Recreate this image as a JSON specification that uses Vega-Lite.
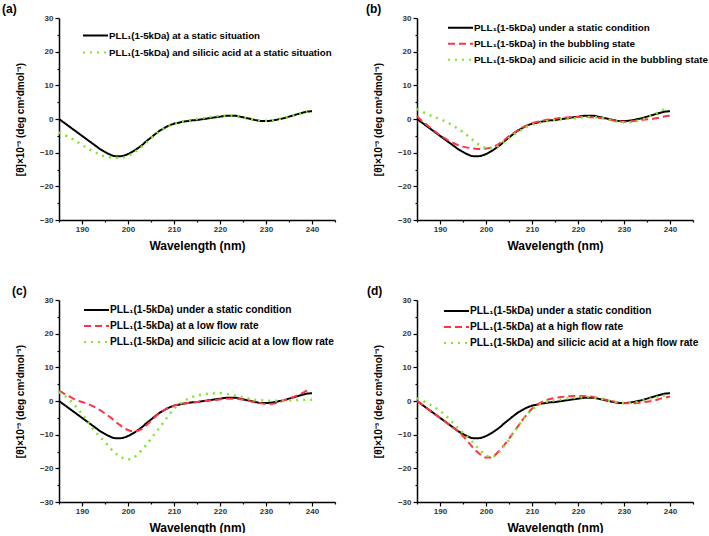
{
"$schema":"https://vega.github.io/schema/vega-lite/v6.json",
"background":"white",
"padding":{"left":2,"top":3,"right":0,"bottom":0},
"config":{
 "view":{"stroke":null},
 "axis":{"domainColor":"#000","domainWidth":1.5,"tickColor":"#000","tickWidth":1.2,"labelFont":"Liberation Sans","labelFontSize":8,"labelFontWeight":"bold","labelColor":"#333","titleFont":"Liberation Sans","titleFontWeight":"bold","titleColor":"#000","grid":false,"labelOverlap":false,"labelBound":false},
 "legend":{"orient":"none","symbolType":"stroke","symbolSize":625,"symbolStrokeWidth":2,"labelFont":"Liberation Sans","labelFontSize":10.2,"labelFontWeight":"bold","labelColor":"#000","labelLimit":500,"clipHeight":16,"rowPadding":0,"labelOffset":0,"padding":0},
 "title":{"anchor":"start","frame":"group","offset":-2,"baseline":"alphabetic","fontSize":12,"fontWeight":"bold","font":"Liberation Sans","color":"#000"}
},
"datasets":{
"static":[{"x":185,"y":0},{"x":186,"y":-1},{"x":187,"y":-2},{"x":188,"y":-3},{"x":189,"y":-4},{"x":190,"y":-5},{"x":191,"y":-6},{"x":192,"y":-7},{"x":193,"y":-8},{"x":194,"y":-9},{"x":195,"y":-9.8},{"x":196,"y":-10.5},{"x":197,"y":-11},{"x":198,"y":-11.1},{"x":199,"y":-10.9},{"x":200,"y":-10.4},{"x":201,"y":-9.7},{"x":202,"y":-8.8},{"x":203,"y":-7.8},{"x":204,"y":-6.6},{"x":205,"y":-5.5},{"x":206,"y":-4.4},{"x":207,"y":-3.4},{"x":208,"y":-2.6},{"x":209,"y":-1.9},{"x":210,"y":-1.4},{"x":211,"y":-1.1},{"x":212,"y":-0.8},{"x":213,"y":-0.6},{"x":214,"y":-0.4},{"x":215,"y":-0.3},{"x":216,"y":-0.1},{"x":217,"y":0.1},{"x":218,"y":0.3},{"x":219,"y":0.5},{"x":220,"y":0.7},{"x":221,"y":0.9},{"x":222,"y":1},{"x":223,"y":1},{"x":224,"y":0.8},{"x":225,"y":0.5},{"x":226,"y":0.2},{"x":227,"y":-0.1},{"x":228,"y":-0.4},{"x":229,"y":-0.6},{"x":230,"y":-0.6},{"x":231,"y":-0.5},{"x":232,"y":-0.3},{"x":233,"y":0},{"x":234,"y":0.3},{"x":235,"y":0.7},{"x":236,"y":1.1},{"x":237,"y":1.5},{"x":238,"y":1.9},{"x":239,"y":2.2},{"x":240,"y":2.3}],
"a_g":[{"x":185,"y":-4},{"x":186,"y":-4.6},{"x":187,"y":-5.3},{"x":188,"y":-6},{"x":189,"y":-6.8},{"x":190,"y":-7.7},{"x":191,"y":-8.5},{"x":192,"y":-9.3},{"x":193,"y":-10},{"x":194,"y":-10.7},{"x":195,"y":-11.1},{"x":196,"y":-11.4},{"x":197,"y":-11.5},{"x":198,"y":-11.5},{"x":199,"y":-11.4},{"x":200,"y":-11},{"x":201,"y":-10.2},{"x":202,"y":-9.3},{"x":203,"y":-8.2},{"x":204,"y":-7},{"x":205,"y":-5.7},{"x":206,"y":-4.6},{"x":207,"y":-3.6},{"x":208,"y":-2.7},{"x":209,"y":-2},{"x":210,"y":-1.5},{"x":211,"y":-1.1},{"x":212,"y":-0.7},{"x":213,"y":-0.5},{"x":214,"y":-0.2},{"x":215,"y":0},{"x":216,"y":0.2},{"x":217,"y":0.4},{"x":218,"y":0.6},{"x":219,"y":0.8},{"x":220,"y":0.9},{"x":221,"y":1},{"x":222,"y":1.1},{"x":223,"y":1},{"x":224,"y":0.8},{"x":225,"y":0.5},{"x":226,"y":0.2},{"x":227,"y":-0.1},{"x":228,"y":-0.3},{"x":229,"y":-0.4},{"x":230,"y":-0.5},{"x":231,"y":-0.4},{"x":232,"y":-0.2},{"x":233,"y":0.1},{"x":234,"y":0.4},{"x":235,"y":0.7},{"x":236,"y":1.1},{"x":237,"y":1.5},{"x":238,"y":1.9},{"x":239,"y":2.2}],
"b_r":[{"x":185,"y":0.8},{"x":186,"y":-0.5},{"x":187,"y":-1.6},{"x":188,"y":-2.7},{"x":189,"y":-3.8},{"x":190,"y":-4.8},{"x":191,"y":-5.7},{"x":192,"y":-6.5},{"x":193,"y":-7.2},{"x":194,"y":-7.8},{"x":195,"y":-8.2},{"x":196,"y":-8.5},{"x":197,"y":-8.7},{"x":198,"y":-8.9},{"x":199,"y":-8.9},{"x":200,"y":-8.8},{"x":201,"y":-8.5},{"x":202,"y":-8},{"x":203,"y":-7.2},{"x":204,"y":-6.2},{"x":205,"y":-5.1},{"x":206,"y":-4.2},{"x":207,"y":-3.3},{"x":208,"y":-2.5},{"x":209,"y":-1.8},{"x":210,"y":-1.3},{"x":211,"y":-0.9},{"x":212,"y":-0.6},{"x":213,"y":-0.3},{"x":214,"y":-0.1},{"x":215,"y":0.1},{"x":216,"y":0.3},{"x":217,"y":0.4},{"x":218,"y":0.5},{"x":219,"y":0.6},{"x":220,"y":0.6},{"x":221,"y":0.6},{"x":222,"y":0.6},{"x":223,"y":0.5},{"x":224,"y":0.4},{"x":225,"y":0.3},{"x":226,"y":0.1},{"x":227,"y":-0.2},{"x":228,"y":-0.5},{"x":229,"y":-0.7},{"x":230,"y":-0.8},{"x":231,"y":-0.8},{"x":232,"y":-0.6},{"x":233,"y":-0.4},{"x":234,"y":-0.2},{"x":235,"y":-0.1},{"x":236,"y":0},{"x":237,"y":0.2},{"x":238,"y":0.5},{"x":239,"y":0.8},{"x":240,"y":1}],
"b_g":[{"x":185,"y":3},{"x":186,"y":2.3},{"x":187,"y":1.6},{"x":188,"y":1},{"x":189,"y":0.5},{"x":190,"y":0},{"x":191,"y":-0.6},{"x":192,"y":-1.3},{"x":193,"y":-2.1},{"x":194,"y":-3},{"x":195,"y":-3.9},{"x":196,"y":-5},{"x":197,"y":-6.1},{"x":198,"y":-7.2},{"x":199,"y":-8.1},{"x":200,"y":-8.6},{"x":201,"y":-8.7},{"x":202,"y":-8.4},{"x":203,"y":-7.7},{"x":204,"y":-6.7},{"x":205,"y":-5.7},{"x":206,"y":-4.7},{"x":207,"y":-3.8},{"x":208,"y":-3},{"x":209,"y":-2.3},{"x":210,"y":-1.7},{"x":211,"y":-1.3},{"x":212,"y":-1},{"x":213,"y":-0.7},{"x":214,"y":-0.5},{"x":215,"y":-0.3},{"x":216,"y":-0.1},{"x":217,"y":0},{"x":218,"y":0.1},{"x":219,"y":0.2},{"x":220,"y":0.3},{"x":221,"y":0.5},{"x":222,"y":0.6},{"x":223,"y":0.6},{"x":224,"y":0.5},{"x":225,"y":0.3},{"x":226,"y":0},{"x":227,"y":-0.3},{"x":228,"y":-0.6},{"x":229,"y":-0.9},{"x":230,"y":-1},{"x":231,"y":-1},{"x":232,"y":-0.8},{"x":233,"y":-0.5},{"x":234,"y":-0.1},{"x":235,"y":0.5},{"x":236,"y":1.1},{"x":237,"y":1.7},{"x":238,"y":2.4},{"x":239,"y":3.1}],
"c_r":[{"x":185,"y":3},{"x":186,"y":2.3},{"x":187,"y":1.5},{"x":188,"y":0.8},{"x":189,"y":0.2},{"x":190,"y":-0.3},{"x":191,"y":-0.7},{"x":192,"y":-1.3},{"x":193,"y":-2},{"x":194,"y":-2.8},{"x":195,"y":-3.7},{"x":196,"y":-4.7},{"x":197,"y":-5.8},{"x":198,"y":-6.9},{"x":199,"y":-7.9},{"x":200,"y":-8.6},{"x":201,"y":-9},{"x":202,"y":-8.9},{"x":203,"y":-8.3},{"x":204,"y":-7.2},{"x":205,"y":-5.9},{"x":206,"y":-4.6},{"x":207,"y":-3.5},{"x":208,"y":-2.6},{"x":209,"y":-1.9},{"x":210,"y":-1.4},{"x":211,"y":-1},{"x":212,"y":-0.8},{"x":213,"y":-0.6},{"x":214,"y":-0.4},{"x":215,"y":-0.3},{"x":216,"y":-0.1},{"x":217,"y":0},{"x":218,"y":0.2},{"x":219,"y":0.3},{"x":220,"y":0.5},{"x":221,"y":0.6},{"x":222,"y":0.7},{"x":223,"y":0.7},{"x":224,"y":0.6},{"x":225,"y":0.4},{"x":226,"y":0.1},{"x":227,"y":-0.2},{"x":228,"y":-0.5},{"x":229,"y":-0.7},{"x":230,"y":-0.9},{"x":231,"y":-0.9},{"x":232,"y":-0.7},{"x":233,"y":-0.3},{"x":234,"y":0.2},{"x":235,"y":0.7},{"x":236,"y":1.2},{"x":237,"y":1.8},{"x":238,"y":2.4},{"x":239,"y":3.2}],
"c_g":[{"x":185,"y":2.6},{"x":186,"y":1.8},{"x":187,"y":0.7},{"x":188,"y":-0.6},{"x":189,"y":-2.2},{"x":190,"y":-3.9},{"x":191,"y":-5.7},{"x":192,"y":-7.6},{"x":193,"y":-9.3},{"x":194,"y":-10.8},{"x":195,"y":-12.2},{"x":196,"y":-13.8},{"x":197,"y":-15.2},{"x":198,"y":-16.3},{"x":199,"y":-17},{"x":200,"y":-17.3},{"x":201,"y":-17},{"x":202,"y":-16},{"x":203,"y":-14.6},{"x":204,"y":-13},{"x":205,"y":-11.2},{"x":206,"y":-9.4},{"x":207,"y":-7.6},{"x":208,"y":-5.8},{"x":209,"y":-4},{"x":210,"y":-2.3},{"x":211,"y":-1.2},{"x":212,"y":-0.2},{"x":213,"y":0.6},{"x":214,"y":1.2},{"x":215,"y":1.6},{"x":216,"y":1.9},{"x":217,"y":2.1},{"x":218,"y":2.2},{"x":219,"y":2.3},{"x":220,"y":2.3},{"x":221,"y":2.2},{"x":222,"y":2},{"x":223,"y":1.7},{"x":224,"y":1.4},{"x":225,"y":1.1},{"x":226,"y":0.8},{"x":227,"y":0.5},{"x":228,"y":0.3},{"x":229,"y":0.2},{"x":230,"y":0.1},{"x":231,"y":0.1},{"x":232,"y":0.1},{"x":233,"y":0.1},{"x":234,"y":0.2},{"x":235,"y":0.2},{"x":236,"y":0.3},{"x":237,"y":0.3},{"x":238,"y":0.4},{"x":239,"y":0.4},{"x":240,"y":0.4}],
"d_r":[{"x":185,"y":0},{"x":186,"y":-1},{"x":187,"y":-2},{"x":188,"y":-3},{"x":189,"y":-4},{"x":190,"y":-5},{"x":191,"y":-6},{"x":192,"y":-7},{"x":193,"y":-8},{"x":194,"y":-9.1},{"x":195,"y":-10.4},{"x":196,"y":-12},{"x":197,"y":-13.6},{"x":198,"y":-15},{"x":199,"y":-16.1},{"x":200,"y":-16.8},{"x":201,"y":-16.8},{"x":202,"y":-16},{"x":203,"y":-14.6},{"x":204,"y":-13},{"x":205,"y":-11.2},{"x":206,"y":-9.3},{"x":207,"y":-7.4},{"x":208,"y":-5.5},{"x":209,"y":-3.8},{"x":210,"y":-2.3},{"x":211,"y":-1.2},{"x":212,"y":-0.4},{"x":213,"y":0.2},{"x":214,"y":0.6},{"x":215,"y":0.9},{"x":216,"y":1.1},{"x":217,"y":1.3},{"x":218,"y":1.4},{"x":219,"y":1.5},{"x":220,"y":1.5},{"x":221,"y":1.5},{"x":222,"y":1.4},{"x":223,"y":1.3},{"x":224,"y":1},{"x":225,"y":0.7},{"x":226,"y":0.4},{"x":227,"y":0.1},{"x":228,"y":-0.2},{"x":229,"y":-0.5},{"x":230,"y":-0.7},{"x":231,"y":-0.7},{"x":232,"y":-0.7},{"x":233,"y":-0.6},{"x":234,"y":-0.4},{"x":235,"y":-0.2},{"x":236,"y":0},{"x":237,"y":0.3},{"x":238,"y":0.7},{"x":239,"y":1},{"x":240,"y":1.3}],
"d_g":[{"x":185,"y":0.8},{"x":186,"y":0.3},{"x":187,"y":-0.5},{"x":188,"y":-1.2},{"x":189,"y":-2},{"x":190,"y":-2.9},{"x":191,"y":-4.1},{"x":192,"y":-5.3},{"x":193,"y":-6.8},{"x":194,"y":-8.2},{"x":195,"y":-9.5},{"x":196,"y":-10.8},{"x":197,"y":-12.1},{"x":198,"y":-13.6},{"x":199,"y":-15},{"x":200,"y":-16.1},{"x":201,"y":-16.6},{"x":202,"y":-16.3},{"x":203,"y":-15},{"x":204,"y":-13.3},{"x":205,"y":-11.5},{"x":206,"y":-9.5},{"x":207,"y":-7.5},{"x":208,"y":-5.6},{"x":209,"y":-3.9},{"x":210,"y":-2.6},{"x":211,"y":-1.6},{"x":212,"y":-0.8},{"x":213,"y":-0.3},{"x":214,"y":0},{"x":215,"y":0.2},{"x":216,"y":0.4},{"x":217,"y":0.6},{"x":218,"y":0.8},{"x":219,"y":0.9},{"x":220,"y":1},{"x":221,"y":1.1},{"x":222,"y":1.2},{"x":223,"y":1.1},{"x":224,"y":0.9},{"x":225,"y":0.6},{"x":226,"y":0.3},{"x":227,"y":0},{"x":228,"y":-0.3},{"x":229,"y":-0.5},{"x":230,"y":-0.6},{"x":231,"y":-0.6},{"x":232,"y":-0.4},{"x":233,"y":-0.2},{"x":234,"y":0.1},{"x":235,"y":0.5},{"x":236,"y":0.8},{"x":237,"y":1.1},{"x":238,"y":1.4},{"x":239,"y":1.7},{"x":240,"y":2}]
},
"resolve":{"scale":{"color":"independent","strokeDash":"independent"},"legend":{"color":"independent","strokeDash":"independent"}},
"columns":2,
"spacing":{"row":80,"column":82},
"bounds":"flush",
"concat":[
 {"width":276,"height":202,
  "title":{"text":"(a)","dx":-57},
  "layer":[
   {"data":{"name":"static"},"mark":{"type":"line","interpolate":"monotone","strokeWidth":2},
    "encoding":{
     "x":{"field":"x","type":"quantitative","scale":{"domain":[185,245],"nice":false,"zero":false},"axis":{"values":[185,190,195,200,205,210,215,220,225,230,235,240,245],"tickCount":30,"labelOverlap":false,"labelExpr":"datum.value % 10 == 0 ? datum.label : ''","tickSize":{"condition":{"test":"datum.value % 10 == 0","value":4},"value":2},"title":"Wavelength (nm)","titleFontSize":12,"titlePadding":7,"labelPadding":1}},
     "y":{"field":"y","type":"quantitative","scale":{"domain":[-30,30],"nice":false},"axis":{"values":[-30,-25,-20,-15,-10,-5,0,5,10,15,20,25,30],"tickCount":30,"labelOverlap":false,"labelExpr":"datum.value % 10 == 0 ? datum.label : ''","tickSize":{"condition":{"test":"datum.value % 10 == 0","value":4},"value":2},"title":"[θ]×10⁻³ (deg cm²dmol⁻¹)","titleFontSize":10,"titlePadding":14}},
     "color":{"datum":"PLL₁(1-5kDa) at a static situation","scale":{"domain":["PLL₁(1-5kDa) at a static situation","PLL₁(1-5kDa) and silicic acid at a static situation"],"range":["#000000","#7fe62e"]},"legend":{"title":null,"legendX":23,"legendY":9,"clipHeight":17,"labelFontSize":9.7}},
     "strokeDash":{"datum":"PLL₁(1-5kDa) at a static situation","scale":{"domain":["PLL₁(1-5kDa) at a static situation","PLL₁(1-5kDa) and silicic acid at a static situation"],"range":[[1,0],[2,5]]},"legend":{"title":null,"legendX":23,"legendY":9,"clipHeight":17,"labelFontSize":9.7}}}},
   {"data":{"name":"a_g"},"mark":{"type":"line","interpolate":"monotone","strokeWidth":2.5,"strokeCap":"butt"},
    "encoding":{"x":{"field":"x","type":"quantitative"},"y":{"field":"y","type":"quantitative"},
     "color":{"datum":"PLL₁(1-5kDa) and silicic acid at a static situation"},"strokeDash":{"datum":"PLL₁(1-5kDa) and silicic acid at a static situation"}}}
  ]},
 {"width":276,"height":202,
  "title":{"text":"(b)","dx":-51},
  "layer":[
   {"data":{"name":"static"},"mark":{"type":"line","interpolate":"monotone","strokeWidth":2},
    "encoding":{
     "x":{"field":"x","type":"quantitative","scale":{"domain":[185,245],"nice":false,"zero":false},"axis":{"values":[185,190,195,200,205,210,215,220,225,230,235,240,245],"tickCount":30,"labelOverlap":false,"labelExpr":"datum.value % 10 == 0 ? datum.label : ''","tickSize":{"condition":{"test":"datum.value % 10 == 0","value":4},"value":2},"title":"Wavelength (nm)","titleFontSize":12,"titlePadding":7,"labelPadding":1}},
     "y":{"field":"y","type":"quantitative","scale":{"domain":[-30,30],"nice":false},"axis":{"values":[-30,-25,-20,-15,-10,-5,0,5,10,15,20,25,30],"tickCount":30,"labelOverlap":false,"labelExpr":"datum.value % 10 == 0 ? datum.label : ''","tickSize":{"condition":{"test":"datum.value % 10 == 0","value":4},"value":2},"title":"[θ]×10⁻³ (deg cm²dmol⁻¹)","titleFontSize":10,"titlePadding":14}},
     "color":{"datum":"PLL₁(1-5kDa) under a static condition","scale":{"domain":["PLL₁(1-5kDa) under a static condition","PLL₁(1-5kDa) in the bubbling state","PLL₁(1-5kDa) and silicic acid in the bubbling state"],"range":["#000000","#ff3347","#7fe62e"]},"legend":{"title":null,"legendX":30,"legendY":2,"clipHeight":15.5,"labelFontSize":9.9}},
     "strokeDash":{"datum":"PLL₁(1-5kDa) under a static condition","scale":{"domain":["PLL₁(1-5kDa) under a static condition","PLL₁(1-5kDa) in the bubbling state","PLL₁(1-5kDa) and silicic acid in the bubbling state"],"range":[[1,0],[7,4],[2,5]]},"legend":{"title":null,"legendX":30,"legendY":2,"clipHeight":15.5,"labelFontSize":9.9}}}},
   {"data":{"name":"b_r"},"mark":{"type":"line","interpolate":"monotone","strokeWidth":2,"strokeCap":"butt"},
    "encoding":{"x":{"field":"x","type":"quantitative"},"y":{"field":"y","type":"quantitative"},
     "color":{"datum":"PLL₁(1-5kDa) in the bubbling state"},"strokeDash":{"datum":"PLL₁(1-5kDa) in the bubbling state"}}},
   {"data":{"name":"b_g"},"mark":{"type":"line","interpolate":"monotone","strokeWidth":2.5,"strokeCap":"butt"},
    "encoding":{"x":{"field":"x","type":"quantitative"},"y":{"field":"y","type":"quantitative"},
     "color":{"datum":"PLL₁(1-5kDa) and silicic acid in the bubbling state"},"strokeDash":{"datum":"PLL₁(1-5kDa) and silicic acid in the bubbling state"}}}
  ]},
 {"width":276,"height":202,
  "title":{"text":"(c)","dx":-47},
  "layer":[
   {"data":{"name":"static"},"mark":{"type":"line","interpolate":"monotone","strokeWidth":2},
    "encoding":{
     "x":{"field":"x","type":"quantitative","scale":{"domain":[185,245],"nice":false,"zero":false},"axis":{"values":[185,190,195,200,205,210,215,220,225,230,235,240,245],"tickCount":30,"labelOverlap":false,"labelExpr":"datum.value % 10 == 0 ? datum.label : ''","tickSize":{"condition":{"test":"datum.value % 10 == 0","value":4},"value":2},"title":"Wavelength (nm)","titleFontSize":12,"titlePadding":7,"labelPadding":1}},
     "y":{"field":"y","type":"quantitative","scale":{"domain":[-30,30],"nice":false},"axis":{"values":[-30,-25,-20,-15,-10,-5,0,5,10,15,20,25,30],"tickCount":30,"labelOverlap":false,"labelExpr":"datum.value % 10 == 0 ? datum.label : ''","tickSize":{"condition":{"test":"datum.value % 10 == 0","value":4},"value":2},"title":"[θ]×10⁻³ (deg cm²dmol⁻¹)","titleFontSize":10,"titlePadding":14}},
     "color":{"datum":"PLL₁(1-5kDa) under a static condition","scale":{"domain":["PLL₁(1-5kDa) under a static condition","PLL₁(1-5kDa) at a low flow rate","PLL₁(1-5kDa) and silicic acid at a low flow rate"],"range":["#000000","#ff3347","#7fe62e"]},"legend":{"title":null,"legendX":24,"legendY":2}},
     "strokeDash":{"datum":"PLL₁(1-5kDa) under a static condition","scale":{"domain":["PLL₁(1-5kDa) under a static condition","PLL₁(1-5kDa) at a low flow rate","PLL₁(1-5kDa) and silicic acid at a low flow rate"],"range":[[1,0],[7,4],[2,5]]},"legend":{"title":null,"legendX":24,"legendY":2}}}},
   {"data":{"name":"c_r"},"mark":{"type":"line","interpolate":"monotone","strokeWidth":2,"strokeCap":"butt"},
    "encoding":{"x":{"field":"x","type":"quantitative"},"y":{"field":"y","type":"quantitative"},
     "color":{"datum":"PLL₁(1-5kDa) at a low flow rate"},"strokeDash":{"datum":"PLL₁(1-5kDa) at a low flow rate"}}},
   {"data":{"name":"c_g"},"mark":{"type":"line","interpolate":"monotone","strokeWidth":2.5,"strokeCap":"butt"},
    "encoding":{"x":{"field":"x","type":"quantitative"},"y":{"field":"y","type":"quantitative"},
     "color":{"datum":"PLL₁(1-5kDa) and silicic acid at a low flow rate"},"strokeDash":{"datum":"PLL₁(1-5kDa) and silicic acid at a low flow rate"}}}
  ]},
 {"width":276,"height":202,
  "title":{"text":"(d)","dx":-50},
  "layer":[
   {"data":{"name":"static"},"mark":{"type":"line","interpolate":"monotone","strokeWidth":2},
    "encoding":{
     "x":{"field":"x","type":"quantitative","scale":{"domain":[185,245],"nice":false,"zero":false},"axis":{"values":[185,190,195,200,205,210,215,220,225,230,235,240,245],"tickCount":30,"labelOverlap":false,"labelExpr":"datum.value % 10 == 0 ? datum.label : ''","tickSize":{"condition":{"test":"datum.value % 10 == 0","value":4},"value":2},"title":"Wavelength (nm)","titleFontSize":12,"titlePadding":7,"labelPadding":1}},
     "y":{"field":"y","type":"quantitative","scale":{"domain":[-30,30],"nice":false},"axis":{"values":[-30,-25,-20,-15,-10,-5,0,5,10,15,20,25,30],"tickCount":30,"labelOverlap":false,"labelExpr":"datum.value % 10 == 0 ? datum.label : ''","tickSize":{"condition":{"test":"datum.value % 10 == 0","value":4},"value":2},"title":"[θ]×10⁻³ (deg cm²dmol⁻¹)","titleFontSize":10,"titlePadding":14}},
     "color":{"datum":"PLL₁(1-5kDa) under a static condition","scale":{"domain":["PLL₁(1-5kDa) under a static condition","PLL₁(1-5kDa) at a high flow rate","PLL₁(1-5kDa) and silicic acid at a high flow rate"],"range":["#000000","#ff3347","#7fe62e"]},"legend":{"title":null,"legendX":26,"legendY":3}},
     "strokeDash":{"datum":"PLL₁(1-5kDa) under a static condition","scale":{"domain":["PLL₁(1-5kDa) under a static condition","PLL₁(1-5kDa) at a high flow rate","PLL₁(1-5kDa) and silicic acid at a high flow rate"],"range":[[1,0],[7,4],[2,5]]},"legend":{"title":null,"legendX":26,"legendY":3}}}},
   {"data":{"name":"d_r"},"mark":{"type":"line","interpolate":"monotone","strokeWidth":2,"strokeCap":"butt"},
    "encoding":{"x":{"field":"x","type":"quantitative"},"y":{"field":"y","type":"quantitative"},
     "color":{"datum":"PLL₁(1-5kDa) at a high flow rate"},"strokeDash":{"datum":"PLL₁(1-5kDa) at a high flow rate"}}},
   {"data":{"name":"d_g"},"mark":{"type":"line","interpolate":"monotone","strokeWidth":2.5,"strokeCap":"butt"},
    "encoding":{"x":{"field":"x","type":"quantitative"},"y":{"field":"y","type":"quantitative"},
     "color":{"datum":"PLL₁(1-5kDa) and silicic acid at a high flow rate"},"strokeDash":{"datum":"PLL₁(1-5kDa) and silicic acid at a high flow rate"}}}
  ]}
]
}
